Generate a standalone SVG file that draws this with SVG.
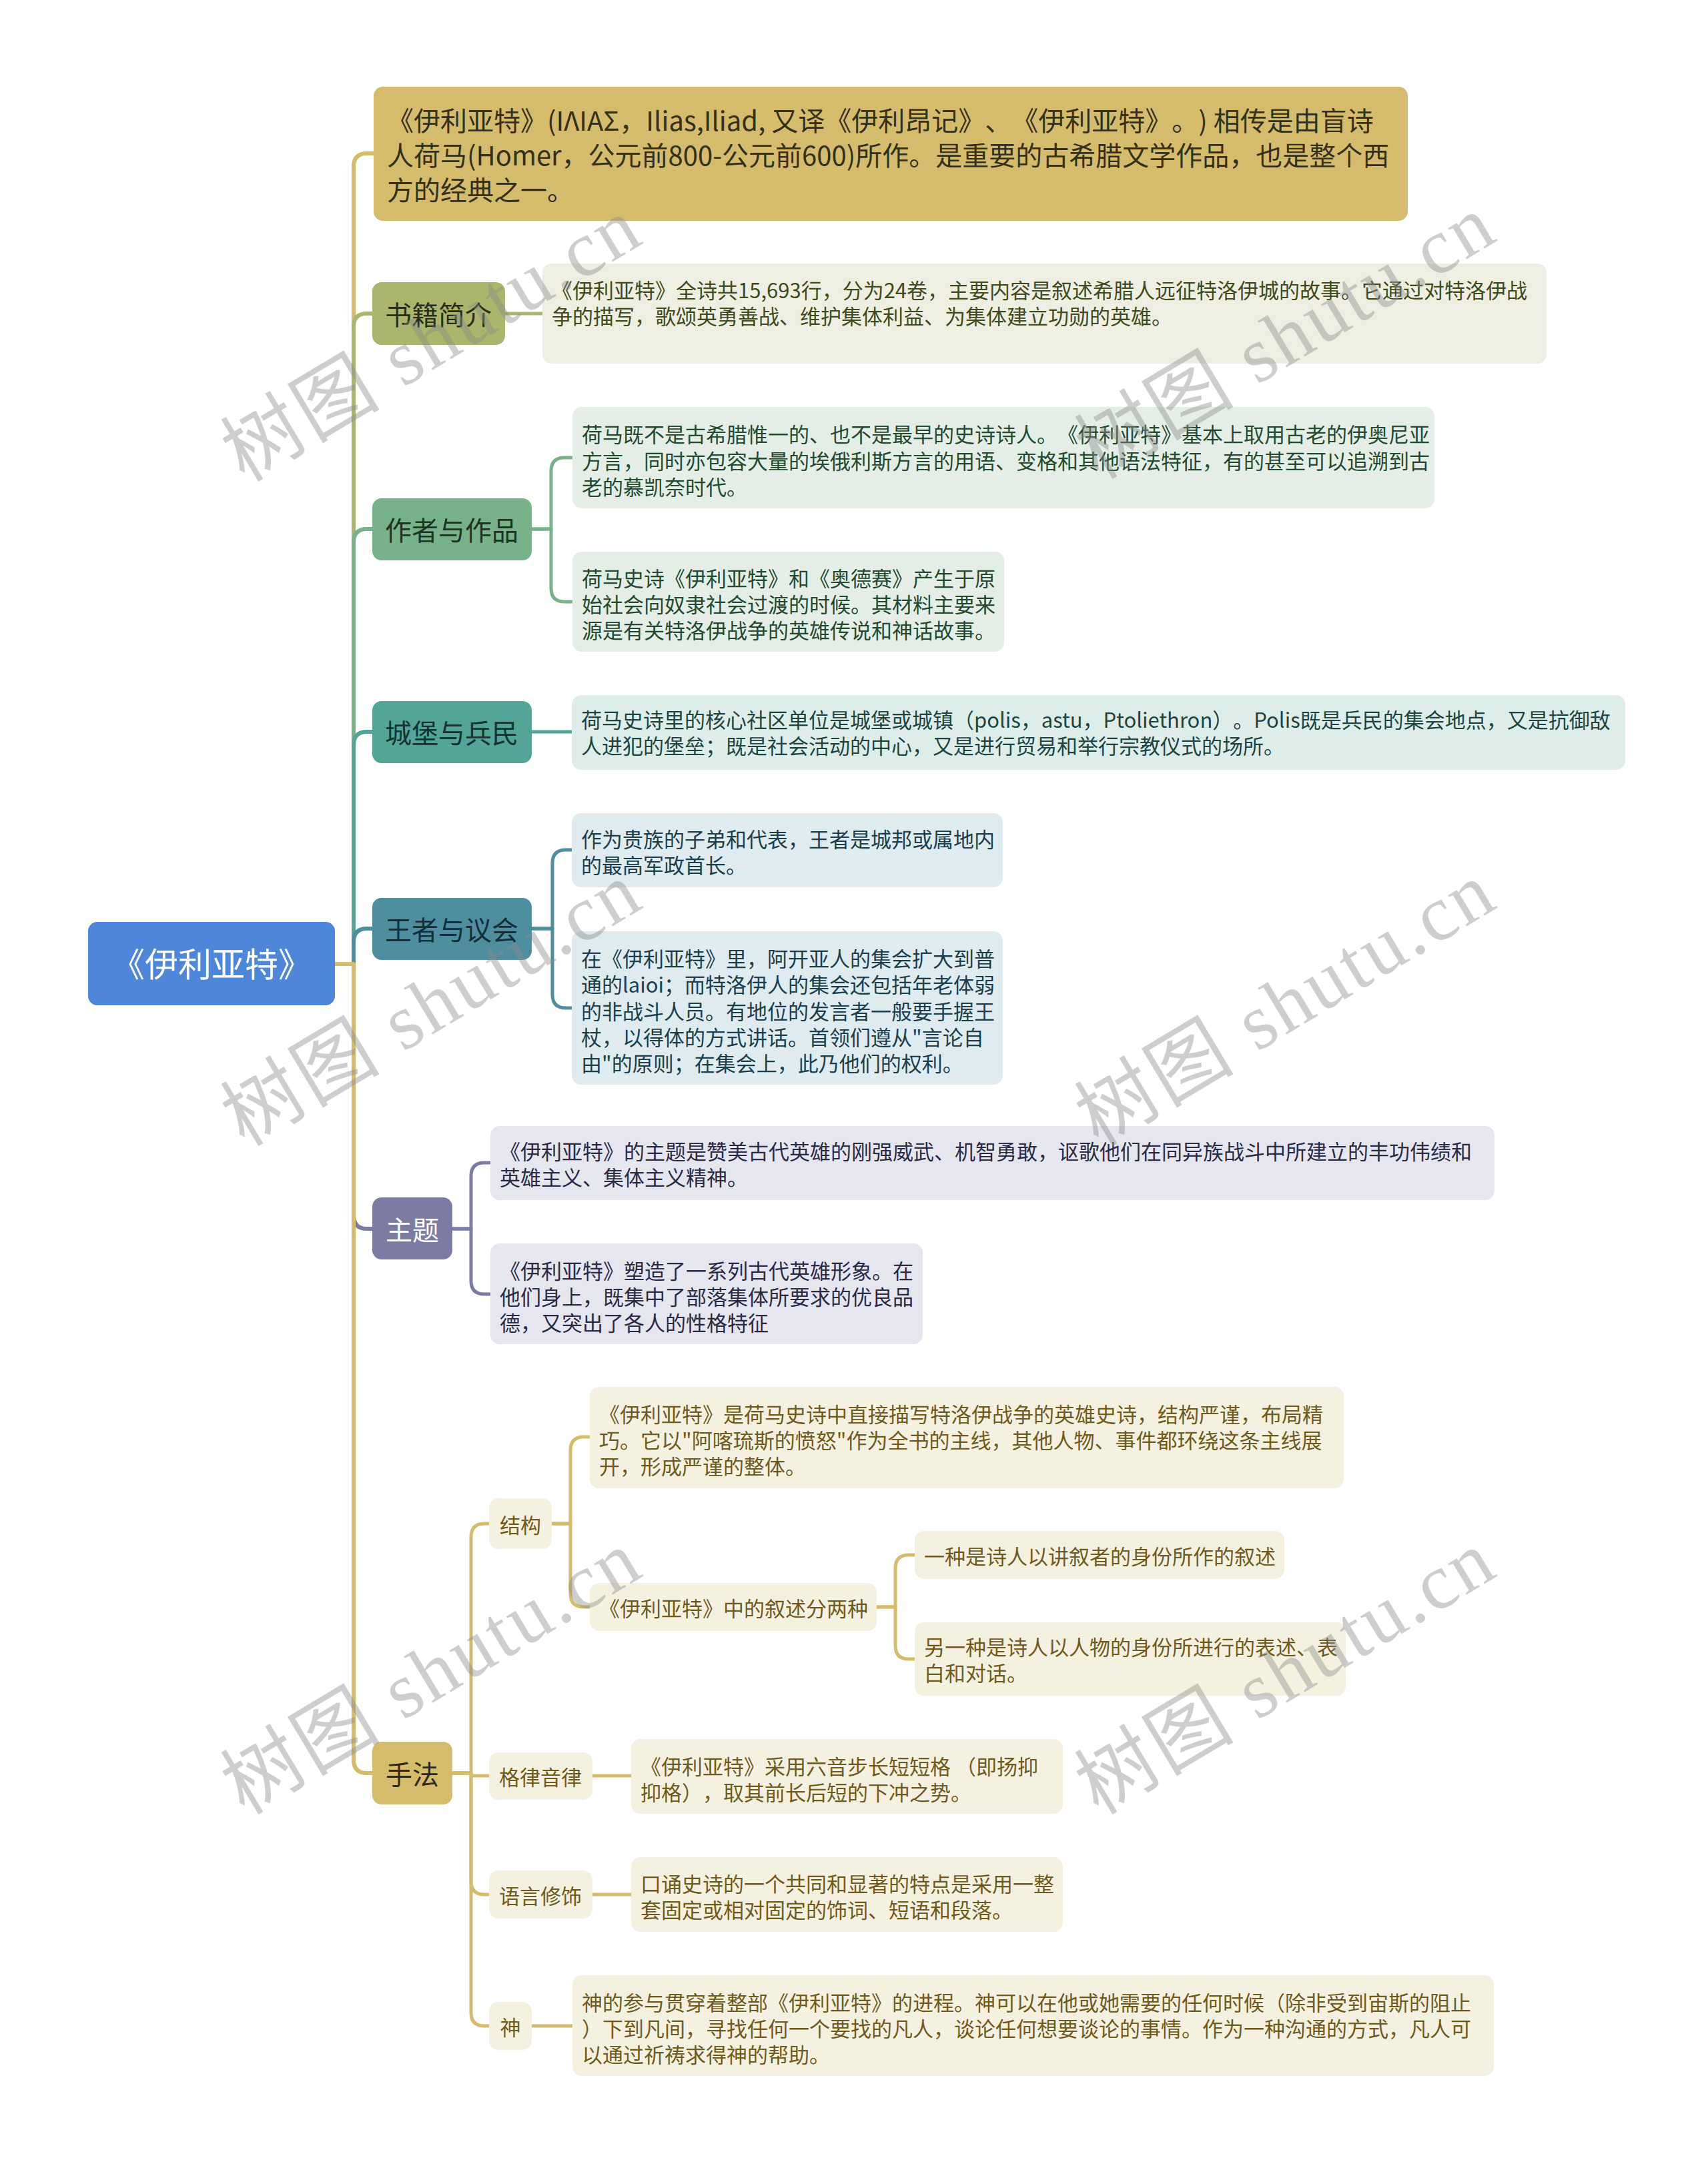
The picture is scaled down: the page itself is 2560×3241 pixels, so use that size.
<svg xmlns="http://www.w3.org/2000/svg" width="2560" height="3241" viewBox="0 0 2560 3241">
<style>
text{font-family:'Noto Sans CJK SC','Noto Sans',sans-serif;dominant-baseline:central;text-spacing-trim:space-all}
g[id^="n-"] text,#intro text{transform:translate(0px,-3px)}
#root text{transform:translate(0px,-5px)}
.c{fill:none;stroke-width:6;stroke-linejoin:round;stroke-linecap:butt}
.s{stroke-width:5}
.main{font-size:40px;text-anchor:middle}
.leaf{font-size:31px}
.sub{font-size:31px;text-anchor:middle}
.wm{font-family:'Liberation Serif','Noto Sans CJK SC',serif;font-size:118px;fill:#8c8c8c;opacity:0.42}
</style>
<rect width="2560" height="3241" fill="#ffffff"/>
<g id="connectors">
<path class="c" stroke="#D4BC6C" d="M502 1445 H530 V250 Q530 230 550 230 H562"/>
<path class="c" stroke="#ABB56B" d="M502 1445 H530 V490 Q530 470 550 470 H560"/>
<path class="c" stroke="#78B28B" d="M502 1445 H530 V813 Q530 793 550 793 H560"/>
<path class="c" stroke="#52A597" d="M502 1445 H530 V1117 Q530 1097 550 1097 H560"/>
<path class="c" stroke="#4F8E9F" d="M502 1445 H530 V1412 Q530 1392 550 1392 H560"/>
<path class="c" stroke="#7B7BA3" d="M502 1445 H530 V1822 Q530 1842 550 1842 H560"/>
<path class="c" stroke="#D4BC6C" d="M502 1445 H530 V2638 Q530 2658 550 2658 H560"/>
<path class="c s" stroke="#ABB56B" d="M757 470 H815"/>
<path class="c s" stroke="#78B28B" d="M797 793 H826 V706 Q826 686 846 686 H860"/>
<path class="c s" stroke="#78B28B" d="M797 793 H826 V882 Q826 902 846 902 H860"/>
<path class="c s" stroke="#52A597" d="M797 1097 H859"/>
<path class="c s" stroke="#4F8E9F" d="M797 1392 H828 V1294 Q828 1274 848 1274 H859"/>
<path class="c s" stroke="#4F8E9F" d="M797 1392 H828 V1491 Q828 1511 848 1511 H859"/>
<path class="c s" stroke="#7B7BA3" d="M678 1842 H706 V1763 Q706 1743 726 1743 H737"/>
<path class="c s" stroke="#7B7BA3" d="M678 1842 H706 V1920 Q706 1940 726 1940 H737"/>
<path class="c s" stroke="#D4BC6C" d="M678 2658 H706 V2304 Q706 2284 726 2284 H735"/>
<path class="c s" stroke="#D4BC6C" d="M678 2658 H706 V2662 H735"/>
<path class="c s" stroke="#D4BC6C" d="M678 2658 H706 V2820 Q706 2840 726 2840 H735"/>
<path class="c s" stroke="#D4BC6C" d="M678 2658 H706 V3017 Q706 3037 726 3037 H735"/>
<path class="c s" stroke="#D4BC6C" d="M827 2284 H855 V2174 Q855 2154 875 2154 H886"/>
<path class="c s" stroke="#D4BC6C" d="M827 2284 H855 V2389 Q855 2409 875 2409 H886"/>
<path class="c s" stroke="#D4BC6C" d="M1314 2409 H1342 V2351 Q1342 2331 1362 2331 H1373"/>
<path class="c s" stroke="#D4BC6C" d="M1314 2409 H1342 V2467 Q1342 2487 1362 2487 H1373"/>
<path class="c s" stroke="#D4BC6C" d="M888 2662 H948"/>
<path class="c s" stroke="#D4BC6C" d="M888 2840 H948"/>
<path class="c s" stroke="#D4BC6C" d="M797 3037 H860"/>
</g>

<g id="root">
<rect x="132" y="1382" width="370" height="125" rx="14" fill="#4E86D9"/>
<text x="317" y="1447" font-size="50" text-anchor="middle" fill="#ffffff">《伊利亚特》</text>
</g>

<g id="intro">
<rect x="560" y="130" width="1550" height="201" rx="14" fill="#D4BC6C"/>
<text font-size="40" fill="#35301A">
<tspan x="580" y="182">《伊利亚特》(ΙΛΙΑΣ，Ilias,Iliad, 又译《伊利昂记》、《伊利亚特》。) 相传是由盲诗</tspan>
<tspan x="580" y="234">人荷马(Homer，公元前800-公元前600)所作。是重要的古希腊文学作品，也是整个西</tspan>
<tspan x="580" y="286">方的经典之一。</tspan>
</text>
</g>

<g id="n-shuji">
<rect x="558" y="423" width="199" height="94" rx="14" fill="#ABB56B"/>
<text class="main" x="657" y="473" fill="#2B2E16">书籍简介</text>
</g>
<g id="n-shuji-leaf">
<rect x="813" y="395" width="1505" height="150" rx="14" fill="#EEEFE2"/>
<text class="leaf" fill="#3E4A1C">
<tspan x="827" y="436">《伊利亚特》全诗共15,693行，分为24卷，主要内容是叙述希腊人远征特洛伊城的故事。它通过对特洛伊战</tspan>
<tspan x="827" y="475">争的描写，歌颂英勇善战、维护集体利益、为集体建立功勋的英雄。</tspan>
</text>
</g>

<g id="n-zuozhe">
<rect x="558" y="747" width="239" height="93" rx="14" fill="#78B28B"/>
<text class="main" x="677" y="796" fill="#1C3524">作者与作品</text>
</g>
<g id="n-zuozhe-leaf1">
<rect x="858" y="610" width="1292" height="152" rx="14" fill="#E4EEE7"/>
<text class="leaf" fill="#23492F">
<tspan x="872" y="652">荷马既不是古希腊惟一的、也不是最早的史诗诗人。《伊利亚特》基本上取用古老的伊奥尼亚</tspan>
<tspan x="872" y="692">方言，同时亦包容大量的埃俄利斯方言的用语、变格和其他语法特征，有的甚至可以追溯到古</tspan>
<tspan x="872" y="731">老的慕凯奈时代。</tspan>
</text>
</g>
<g id="n-zuozhe-leaf2">
<rect x="858" y="827" width="647" height="150" rx="14" fill="#E4EEE7"/>
<text class="leaf" fill="#23492F">
<tspan x="872" y="868">荷马史诗《伊利亚特》和《奥德赛》产生于原</tspan>
<tspan x="872" y="907">始社会向奴隶社会过渡的时候。其材料主要来</tspan>
<tspan x="872" y="946">源是有关特洛伊战争的英雄传说和神话故事。</tspan>
</text>
</g>

<g id="n-chengbao">
<rect x="558" y="1051" width="239" height="93" rx="14" fill="#52A597"/>
<text class="main" x="677" y="1100" fill="#14332F">城堡与兵民</text>
</g>
<g id="n-chengbao-leaf">
<rect x="857" y="1042" width="1579" height="112" rx="14" fill="#DFEDEA"/>
<text class="leaf" fill="#1D4440">
<tspan x="871" y="1080">荷马史诗里的核心社区单位是城堡或城镇（polis，astu，Ptoliethron）。Polis既是兵民的集会地点，又是抗御敌</tspan>
<tspan x="871" y="1119">人进犯的堡垒；既是社会活动的中心，又是进行贸易和举行宗教仪式的场所。</tspan>
</text>
</g>

<g id="n-wangzhe">
<rect x="558" y="1346" width="239" height="93" rx="14" fill="#4F8E9F"/>
<text class="main" x="677" y="1395" fill="#13303A">王者与议会</text>
</g>
<g id="n-wangzhe-leaf1">
<rect x="857" y="1219" width="646" height="111" rx="14" fill="#DFEBEE"/>
<text class="leaf" fill="#1C3E4A">
<tspan x="871" y="1259">作为贵族的子弟和代表，王者是城邦或属地内</tspan>
<tspan x="871" y="1298">的最高军政首长。</tspan>
</text>
</g>
<g id="n-wangzhe-leaf2">
<rect x="857" y="1396" width="646" height="230" rx="14" fill="#DFEBEE"/>
<text class="leaf" fill="#1C3E4A">
<tspan x="871" y="1438">在《伊利亚特》里，阿开亚人的集会扩大到普</tspan>
<tspan x="871" y="1477">通的laioi；而特洛伊人的集会还包括年老体弱</tspan>
<tspan x="871" y="1517">的非战斗人员。有地位的发言者一般要手握王</tspan>
<tspan x="871" y="1556">杖，以得体的方式讲话。首领们遵从"言论自</tspan>
<tspan x="871" y="1595">由"的原则；在集会上，此乃他们的权利。</tspan>
</text>
</g>

<g id="n-zhuti">
<rect x="558" y="1795" width="120" height="93" rx="14" fill="#7B7BA3"/>
<text class="main" x="618" y="1845" fill="#ffffff">主题</text>
</g>
<g id="n-zhuti-leaf1">
<rect x="735" y="1688" width="1505" height="111" rx="14" fill="#E6E6EE"/>
<text class="leaf" fill="#2A2A45">
<tspan x="749" y="1727">《伊利亚特》的主题是赞美古代英雄的刚强威武、机智勇敢，讴歌他们在同异族战斗中所建立的丰功伟绩和</tspan>
<tspan x="749" y="1766">英雄主义、集体主义精神。</tspan>
</text>
</g>
<g id="n-zhuti-leaf2">
<rect x="735" y="1864" width="648" height="151" rx="14" fill="#E6E6EE"/>
<text class="leaf" fill="#2A2A45">
<tspan x="749" y="1906">《伊利亚特》塑造了一系列古代英雄形象。在</tspan>
<tspan x="749" y="1945">他们身上，既集中了部落集体所要求的优良品</tspan>
<tspan x="749" y="1984">德，又突出了各人的性格特征</tspan>
</text>
</g>

<g id="n-shoufa">
<rect x="558" y="2611" width="120" height="94" rx="14" fill="#D4BC6C"/>
<text class="main" x="618" y="2661" fill="#2E2A14">手法</text>
</g>
<g id="n-jiegou">
<rect x="733" y="2246" width="94" height="76" rx="14" fill="#F5F1E1"/>
<text class="sub" x="780" y="2287" fill="#6E5B1B">结构</text>
</g>
<g id="n-jiegou-leaf">
<rect x="884" y="2079" width="1130" height="152" rx="14" fill="#F5F1E1"/>
<text class="leaf" fill="#6E5B1B">
<tspan x="898" y="2121">《伊利亚特》是荷马史诗中直接描写特洛伊战争的英雄史诗，结构严谨，布局精</tspan>
<tspan x="898" y="2160">巧。它以"阿喀琉斯的愤怒"作为全书的主线，其他人物、事件都环绕这条主线展</tspan>
<tspan x="898" y="2199">开，形成严谨的整体。</tspan>
</text>
</g>
<g id="n-xushu">
<rect x="884" y="2373" width="430" height="72" rx="14" fill="#F5F1E1"/>
<text class="leaf" x="898" y="2412" fill="#6E5B1B">《伊利亚特》中的叙述分两种</text>
</g>
<g id="n-xushu-leaf1">
<rect x="1371" y="2295" width="554" height="72" rx="14" fill="#F5F1E1"/>
<text class="leaf" x="1385" y="2334" fill="#6E5B1B">一种是诗人以讲叙者的身份所作的叙述</text>
</g>
<g id="n-xushu-leaf2">
<rect x="1371" y="2432" width="646" height="110" rx="14" fill="#F5F1E1"/>
<text class="leaf" fill="#6E5B1B">
<tspan x="1385" y="2470">另一种是诗人以人物的身份所进行的表述、表</tspan>
<tspan x="1385" y="2509">白和对话。</tspan>
</text>
</g>
<g id="n-gelv">
<rect x="733" y="2627" width="155" height="71" rx="14" fill="#F5F1E1"/>
<text class="sub" x="810" y="2665" fill="#6E5B1B">格律音律</text>
</g>
<g id="n-gelv-leaf">
<rect x="946" y="2607" width="647" height="112" rx="14" fill="#F5F1E1"/>
<text class="leaf" fill="#6E5B1B">
<tspan x="960" y="2649">《伊利亚特》采用六音步长短短格 （即扬抑</tspan>
<tspan x="960" y="2688">抑格），取其前长后短的下冲之势。</tspan>
</text>
</g>
<g id="n-yuyan">
<rect x="733" y="2804" width="155" height="72" rx="14" fill="#F5F1E1"/>
<text class="sub" x="810" y="2843" fill="#6E5B1B">语言修饰</text>
</g>
<g id="n-yuyan-leaf">
<rect x="946" y="2784" width="647" height="112" rx="14" fill="#F5F1E1"/>
<text class="leaf" fill="#6E5B1B">
<tspan x="960" y="2825">口诵史诗的一个共同和显著的特点是采用一整</tspan>
<tspan x="960" y="2864">套固定或相对固定的饰词、短语和段落。</tspan>
</text>
</g>
<g id="n-shen">
<rect x="733" y="3001" width="64" height="72" rx="14" fill="#F5F1E1"/>
<text class="sub" x="765" y="3040" fill="#6E5B1B">神</text>
</g>
<g id="n-shen-leaf">
<rect x="858" y="2961" width="1381" height="151" rx="14" fill="#F5F1E1"/>
<text class="leaf" fill="#6E5B1B">
<tspan x="872" y="3003">神的参与贯穿着整部《伊利亚特》的进程。神可以在他或她需要的任何时候（除非受到宙斯的阻止</tspan>
<tspan x="872" y="3042">）下到凡间，寻找任何一个要找的凡人，谈论任何想要谈论的事情。作为一种沟通的方式，凡人可</tspan>
<tspan x="872" y="3081">以通过祈祷求得神的帮助。</tspan>
</text>
</g>

<g id="watermarks">
<text class="wm" transform="translate(646,510) rotate(-31)" x="-350" y="0" textLength="700" lengthAdjust="spacing">树图 shutu.cn</text>
<text class="wm" transform="translate(1926,506) rotate(-31)" x="-350" y="0" textLength="700" lengthAdjust="spacing">树图 shutu.cn</text>
<text class="wm" transform="translate(646,1506) rotate(-31)" x="-350" y="0" textLength="700" lengthAdjust="spacing">树图 shutu.cn</text>
<text class="wm" transform="translate(1926,1506) rotate(-31)" x="-350" y="0" textLength="700" lengthAdjust="spacing">树图 shutu.cn</text>
<text class="wm" transform="translate(646,2508) rotate(-31)" x="-350" y="0" textLength="700" lengthAdjust="spacing">树图 shutu.cn</text>
<text class="wm" transform="translate(1926,2508) rotate(-31)" x="-350" y="0" textLength="700" lengthAdjust="spacing">树图 shutu.cn</text>
</g>
</svg>
